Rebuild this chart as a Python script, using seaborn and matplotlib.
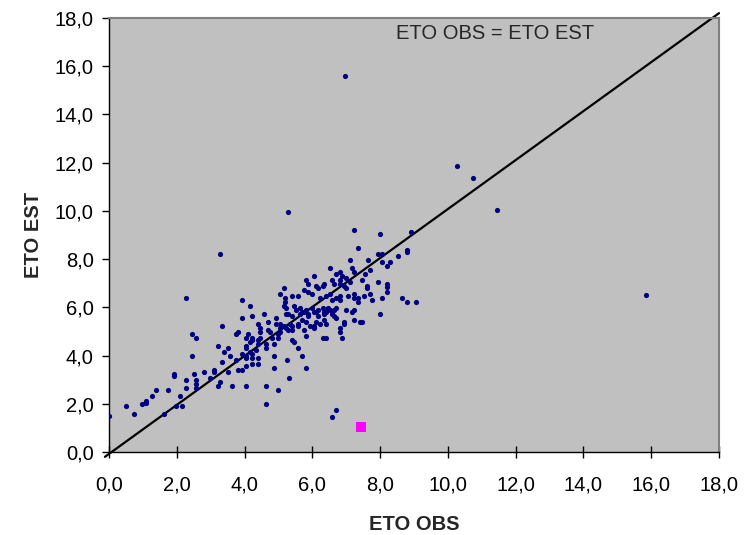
import matplotlib
matplotlib.use("Agg")
import matplotlib.pyplot as plt
import seaborn as sns
import pandas as pd
from matplotlib.ticker import FuncFormatter

# ---- data ----
eto_obs = [
    0.0, 0.49, 0.73, 0.97, 1.08, 1.08, 1.26, 1.38, 1.62, 1.73, 1.97, 2.09, 2.15,
    1.91, 1.91, 2.27, 2.27, 2.27, 2.45, 2.56, 2.44, 2.5, 2.56, 2.56, 2.56, 2.8, 2.98,
    3.1, 3.1, 3.22, 3.22, 3.27, 3.27, 3.33, 3.33, 3.39, 3.51, 3.51, 3.57, 3.63, 3.75,
    3.81, 3.75, 3.81, 3.93, 3.93, 3.93, 3.93, 4.04, 4.04, 4.04, 4.04, 4.04, 4.04, 4.04,
    4.16, 4.22, 4.22, 4.22, 4.34, 4.4, 4.4, 4.64, 4.64, 4.64, 4.88, 4.88, 5.0, 5.24,
    5.3, 5.7, 5.82, 6.57, 6.69,
    10.26, 5.28, 7.24, 8.0, 8.9, 7.36, 8.78, 8.78, 7.95, 8.07, 8.54, 7.12, 7.65, 8.07,
    8.19, 8.3, 6.53, 7.18, 7.71, 6.82, 7.24, 6.7, 6.88, 7.0, 7.54, 5.82, 6.06, 6.59,
    6.82, 7.12, 7.47, 5.88, 6.12, 6.17, 6.3, 6.35, 6.65, 6.82, 6.94, 7.0, 7.6, 7.6,
    7.95, 8.19, 5.17, 5.05, 5.17, 5.41, 5.59, 5.76, 5.88, 6.0, 6.24, 6.41, 6.53, 6.59,
    6.7, 6.82, 7.06, 7.24, 7.24, 7.36, 7.36, 7.53, 7.71, 7.77, 8.07, 8.19, 8.66, 8.78,
    9.07, 5.22, 5.46, 5.52, 5.64, 5.7, 5.82, 5.88, 6.0, 6.06, 6.17, 6.3, 6.35, 6.47,
    6.53, 6.65, 6.7, 6.82, 7.0, 7.24, 8.0, 4.22, 4.58, 5.22, 5.28, 5.4, 5.64, 5.76,
    5.88, 6.12, 6.17, 6.35, 6.41, 6.59, 6.65, 7.18, 4.4, 4.7, 4.93, 5.05, 5.17, 5.34,
    5.41, 5.58, 5.7, 5.82, 5.94, 6.12, 6.24, 6.35, 6.41, 6.7, 6.94, 6.94, 7.24, 7.41,
    7.47, 4.1, 4.22, 4.46, 4.46, 4.76, 5.22, 5.28, 5.4, 5.58, 5.76, 6.06, 6.06, 6.82,
    6.82, 6.88, 6.3, 6.41, 5.4, 5.46, 5.58, 5.82, 4.16,
    4.16, 4.22, 4.4, 4.4, 4.46, 4.64, 4.7, 4.82, 4.88, 4.94, 5.0, 5.0, 5.06, 5.06,
    5.18, 5.18, 8.19,
    10.73, 11.44, 6.95, 15.86,
]
eto_est = [
    1.49, 1.9, 1.56, 1.98, 2.1, 2.02, 2.31, 2.56, 1.56, 2.56, 1.9, 2.31, 1.9,
    3.22, 3.14, 6.38, 2.98, 2.64, 4.88, 4.72, 3.97, 3.22, 2.98, 2.81, 2.64, 3.31, 3.06,
    3.39, 3.31, 4.39, 2.73, 8.2, 2.89, 5.22, 3.72, 4.14, 4.3, 3.31, 3.97, 2.73, 4.88,
    4.97, 3.8, 3.39, 6.29, 5.55, 4.05, 3.39, 4.72, 4.39, 4.3, 3.97, 3.88, 3.55, 2.73,
    4.14, 4.05, 3.88, 3.63, 4.22, 3.63, 3.88, 4.3, 2.73, 1.98, 3.97, 3.47, 2.56, 3.8,
    3.06, 3.97, 3.47, 1.45, 1.74,
    11.85, 9.95, 9.2, 9.03, 9.11, 8.45, 8.37, 8.29, 8.2, 8.2, 8.12, 7.95, 7.95, 7.87,
    7.7, 7.87, 7.62, 7.62, 7.54, 7.46, 7.46, 7.37, 7.29, 7.2, 7.37, 7.12, 7.29, 7.12,
    7.12, 7.04, 7.12, 6.96, 6.88, 6.8, 6.88, 6.96, 6.96, 6.96, 6.88, 6.8, 6.88, 6.8,
    7.04, 6.96, 6.79, 6.54, 6.05, 6.46, 6.46, 6.71, 6.63, 6.54, 6.38, 6.46, 6.54, 6.29,
    6.38, 6.46, 6.46, 6.54, 6.38, 6.38, 6.21, 6.46, 6.54, 6.29, 6.38, 6.63, 6.38, 6.21,
    6.21, 5.96, 6.05, 5.88, 5.96, 5.79, 5.88, 5.71, 5.96, 5.79, 5.88, 5.96, 5.79, 5.96,
    5.88, 5.88, 5.96, 6.29, 5.88, 5.88, 5.71, 5.63, 5.71, 5.71, 5.71, 5.63, 5.71, 5.8,
    5.63, 5.79, 5.63, 5.71, 5.79, 5.71, 5.63, 5.79, 5.3, 5.38, 5.55, 5.3, 5.22, 5.3,
    5.22, 5.3, 5.46, 5.38, 5.22, 5.38, 5.3, 5.46, 5.3, 5.55, 5.38, 5.3, 5.46, 5.38,
    5.38, 4.89, 4.72, 5.13, 4.97, 4.97, 5.13, 5.05, 5.05, 5.22, 5.05, 5.22, 5.13, 5.13,
    4.97, 4.72, 4.72, 4.72, 4.63, 4.55, 4.3, 4.8, 6.05,
    4.55, 4.64, 4.64, 4.47, 4.72, 4.47, 5.05, 4.72, 4.47, 5.3, 4.88, 4.72, 5.13, 4.97,
    6.38, 6.21, 6.83,
    11.36, 10.03, 15.6, 6.51,
]
mean_obs = [7.43]
mean_est = [1.05]
line_obs = [-0.12, 18.0]
line_est = [-0.2, 18.2]

xticks = [0, 2, 4, 6, 8, 10, 12, 14, 16, 18]
yticks = [0, 2, 4, 6, 8, 10, 12, 14, 16, 18]
x_label = "ETO OBS"
y_label = "ETO EST"
line_label = "ETO OBS = ETO EST"

df = pd.DataFrame({"obs": eto_obs, "est": eto_est})
dfm = pd.DataFrame({"obs": mean_obs, "est": mean_est})
dfl = pd.DataFrame({"obs": line_obs, "est": line_est})

sns.set_style("white")
plt.rcParams["font.family"] = ["Liberation Sans", "DejaVu Sans"]

FS = 14.5

fig = plt.figure(figsize=(7.45, 5.35), dpi=100)
ax = fig.add_axes([109 / 745, (535 - 452) / 535, 610 / 745, 434 / 535])
ax.set_facecolor("#C0C0C0")

sns.scatterplot(data=df, x="obs", y="est", ax=ax, color="#000080", s=14,
                linewidth=0, zorder=3)
sns.lineplot(data=dfl, x="obs", y="est", ax=ax, color="black", linewidth=1.6,
             sort=False, estimator=None, zorder=2)
for ln in ax.get_lines():
    ln.set_clip_on(False)
sns.scatterplot(data=dfm, x="obs", y="est", ax=ax, color="#FF00FF", marker="s",
                s=55, linewidth=0, zorder=4)

ax.set_xlim(0, 18)
ax.set_ylim(0, 18)
ax.set_xticks(xticks)
ax.set_yticks(yticks)
fmt = FuncFormatter(lambda v, p: f"{v:.1f}".replace(".", ","))
ax.xaxis.set_major_formatter(fmt)
ax.yaxis.set_major_formatter(fmt)
ax.tick_params(axis="x", direction="inout", length=8, width=1, pad=13,
               labelsize=FS, colors="black")
ax.tick_params(axis="y", direction="out", length=5, width=1, pad=6,
               labelsize=FS, colors="black")
ax.xaxis.set_ticks_position("bottom")
ax.yaxis.set_ticks_position("left")

for side in ["left", "bottom"]:
    ax.spines[side].set_color("black")
    ax.spines[side].set_linewidth(1.0)
for side in ["top", "right"]:
    ax.spines[side].set_color("#808080")
    ax.spines[side].set_linewidth(1.5)
    ax.spines[side].set_visible(True)

ax.set_xlabel(x_label, fontsize=FS, fontweight="bold")
ax.set_ylabel(y_label, fontsize=FS, fontweight="bold")
ax.xaxis.set_label_coords(0.5, -0.145)
ax.yaxis.set_label_coords(-0.108, 0.5)

ax.text(11.4, 17.35, line_label, fontsize=FS, ha="center", va="center", zorder=5)

fig.savefig("out.png", dpi=100)
